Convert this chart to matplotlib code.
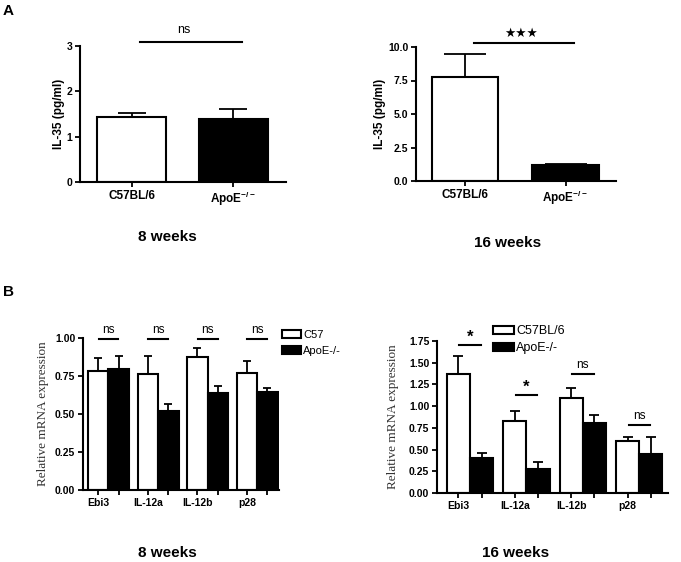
import numpy as np
import matplotlib
matplotlib.use("Agg")
import matplotlib.pyplot as plt
from matplotlib.patches import Patch

plt.rcParams['font.family'] = ['Liberation Sans', 'DejaVu Sans']
plt.rcParams['font.weight'] = 'bold'
plt.rcParams['mathtext.fontset'] = 'custom'
plt.rcParams['mathtext.rm'] = 'Liberation Sans:bold'
plt.rcParams['mathtext.default'] = 'rm'

# panel A: IL-35 serum levels
a_groups = ['C57BL/6', r'ApoE$^{-/-}$']
a8_mean = [1.44, 1.38]
a8_err = [0.08, 0.23]
a16_mean = [7.79, 1.19]
a16_err = [1.71, 0.08]

# panel B: relative mRNA expression
genes = ['Ebi3', 'IL-12a', 'IL-12b', 'p28']
b8_c57 = [0.78, 0.765, 0.877, 0.768]
b8_c57_err = [0.087, 0.118, 0.06, 0.081]
b8_apoe = [0.796, 0.52, 0.636, 0.647]
b8_apoe_err = [0.086, 0.046, 0.05, 0.022]
b8_sig = ['ns', 'ns', 'ns', 'ns']
b8_sig_y = [0.993, 0.993, 0.993, 0.993]

b16_c57 = [1.366, 0.833, 1.098, 0.598]
b16_c57_err = [0.207, 0.111, 0.107, 0.046]
b16_apoe = [0.407, 0.281, 0.806, 0.449]
b16_apoe_err = [0.058, 0.08, 0.096, 0.195]
b16_sig = ['*', '*', 'ns', 'ns']
b16_sig_y = [1.70, 1.124, 1.365, 0.787]

W, H = 681, 562
fig = plt.figure(figsize=(6.81, 5.62), dpi=100)


def add_ax(x0, x1, ytop, ybot):
    return fig.add_axes([x0 / W, 1 - ybot / H, (x1 - x0) / W, (ybot - ytop) / H])


def style(ax, xsize, ysize):
    for s in ['top', 'right']:
        ax.spines[s].set_visible(False)
    for s in ['left', 'bottom']:
        ax.spines[s].set_linewidth(1.5)
    ax.tick_params(width=1.3, length=3.5, pad=2)
    ax.tick_params(axis='x', labelsize=xsize)
    ax.tick_params(axis='y', labelsize=ysize)
    for lab in ax.get_xticklabels() + ax.get_yticklabels():
        lab.set_fontweight('bold')


def panel_a(ax, means, errs, ymax, yticks, fmt, width, cap, sig_y, sig_x, xlim):
    x = np.arange(len(means))
    ax.bar(x, means, width=width, color=['white', 'black'], edgecolor='black', linewidth=1.5, zorder=2)
    ax.errorbar(x, means, yerr=[np.zeros(len(errs)), errs], fmt='none', ecolor='black',
                elinewidth=1.3, capsize=cap, capthick=1.3, zorder=1)
    ax.set_xlim(*xlim)
    ax.set_ylim(0, ymax)
    ax.set_yticks(yticks)
    ax.set_yticklabels([fmt.format(v) for v in yticks])
    ax.set_xticks(x)
    ax.set_xticklabels(a_groups)
    ax.plot(sig_x, [sig_y, sig_y], color='black', lw=1.5, clip_on=False)
    style(ax, 8.5, 7.5)
    ax.set_ylabel('IL-35 (pg/ml)', fontsize=8.5, fontweight='bold')
    return x


# A left
ax1 = add_ax(80, 286, 46, 182)
panel_a(ax1, a8_mean, a8_err, 3, [0, 1, 2, 3], '{:.0f}', 0.676, 10, 3.09,
        [0.08, 1.08], (-0.505, 1.515))
ax1.text(0.51, 3.22, 'ns', ha='center', va='bottom', fontsize=9, fontweight='normal')
ax1.yaxis.set_label_coords(-0.075, 0.5)

# A right
ax2 = add_ax(416, 616, 47, 181)
panel_a(ax2, a16_mean, a16_err, 10, [0, 2.5, 5, 7.5, 10], '{:.1f}', 0.66, 15, 10.3,
        [0.09, 1.085], (-0.488, 1.502))
ax2.text(0.56, 10.55, '\u2605\u2605\u2605', ha='center', va='bottom', fontsize=9,
         family=['DejaVu Sans'])
ax2.yaxis.set_label_coords(-0.15, 0.5)


def panel_b(ax, c57, c57e, apoe, apoee, ymax, yticks, width, cap, sig, sig_y, xlim, half):
    g = np.arange(len(genes))
    xw = g - width / 2
    xb = g + width / 2
    ax.bar(xw, c57, width=width, color='white', edgecolor='black', linewidth=1.5, zorder=2)
    ax.bar(xb, apoe, width=width, color='black', edgecolor='black', linewidth=1.5, zorder=2)
    ax.errorbar(xw, c57, yerr=[np.zeros(4), c57e], fmt='none', ecolor='black',
                elinewidth=1.3, capsize=cap, capthick=1.3, zorder=1)
    ax.errorbar(xb, apoe, yerr=[np.zeros(4), apoee], fmt='none', ecolor='black',
                elinewidth=1.3, capsize=cap, capthick=1.3, zorder=1)
    ax.set_xlim(*xlim)
    ax.set_ylim(0, ymax)
    ax.set_yticks(yticks)
    ax.set_yticklabels(['{:.2f}'.format(v) for v in yticks])
    ticks = np.ravel(np.column_stack([xw, xb]))
    labels = []
    for name in genes:
        labels += [name, '']
    ax.set_xticks(ticks)
    ax.set_xticklabels(labels)
    style(ax, 7.5, 7.5)
    for gi, s, y in zip(g, sig, sig_y):
        ax.plot([gi - half, gi + half], [y, y], color='black', lw=1.5, clip_on=False)
        if s == '*':
            ax.text(gi, y + ymax * 0.005, s, ha='center', va='bottom', fontsize=12,
                    fontweight='bold')
        else:
            ax.text(gi, y + ymax * 0.02, s, ha='center', va='bottom', fontsize=8.5,
                    fontweight='normal')
    ax.set_ylabel('Relative mRNA expression', fontsize=9.5, fontweight='normal',
                  family=['Liberation Serif', 'DejaVu Serif'], color='#333333')
    return g


# B left
ax3 = add_ax(83, 279, 338, 490)
panel_b(ax3, b8_c57, b8_c57_err, b8_apoe, b8_apoe_err, 1.0, [0, 0.25, 0.5, 0.75, 1.0],
        0.413, 3, b8_sig, b8_sig_y, (-0.514, 3.44), 0.2)
ax3.yaxis.set_label_coords(-0.175, 0.5)
ax3.legend(handles=[Patch(facecolor='white', edgecolor='black', linewidth=1.5, label='C57'),
                    Patch(facecolor='black', edgecolor='black', linewidth=1.5, label='ApoE-/-')],
           loc='upper left', bbox_to_anchor=(282 / W, 1 - 330 / H), bbox_transform=fig.transFigure,
           frameon=False, prop={'weight': 'normal', 'size': 8},
           handlelength=1.75, handleheight=0.65, handletextpad=0.15, labelspacing=0.55,
           borderpad=0, borderaxespad=0)

# B right
ax4 = add_ax(437, 668, 341, 493)
panel_b(ax4, b16_c57, b16_c57_err, b16_apoe, b16_apoe_err, 1.75,
        [0, 0.25, 0.5, 0.75, 1.0, 1.25, 1.5, 1.75],
        0.41, 3.5, b16_sig, b16_sig_y, (-0.584, 3.508), 0.19)
ax4.yaxis.set_label_coords(-0.165, 0.5)
ax4.legend(handles=[Patch(facecolor='white', edgecolor='black', linewidth=1.5, label='C57BL/6'),
                    Patch(facecolor='black', edgecolor='black', linewidth=1.5, label='ApoE-/-')],
           loc='upper left', bbox_to_anchor=(493 / W, 1 - 325 / H), bbox_transform=fig.transFigure,
           frameon=False, prop={'weight': 'normal', 'size': 9},
           handlelength=1.7, handleheight=0.6, handletextpad=0.15, labelspacing=0.4,
           borderpad=0, borderaxespad=0)

# captions and panel letters
fig.text(3 / W, 1 - 11 / H, 'A', fontsize=11, fontweight='bold', va='center')
fig.text(3 / W, 1 - 292 / H, 'B', fontsize=11, fontweight='bold', va='center')
fig.text(167 / W, 1 - 237 / H, '8 weeks', fontsize=11, fontweight='bold', ha='center', va='center')
fig.text(508 / W, 1 - 243 / H, '16 weeks', fontsize=11, fontweight='bold', ha='center', va='center')
fig.text(167 / W, 1 - 553 / H, '8 weeks', fontsize=11, fontweight='bold', ha='center', va='center')
fig.text(516 / W, 1 - 553 / H, '16 weeks', fontsize=11, fontweight='bold', ha='center', va='center')

fig.savefig('out.png', dpi=100)
